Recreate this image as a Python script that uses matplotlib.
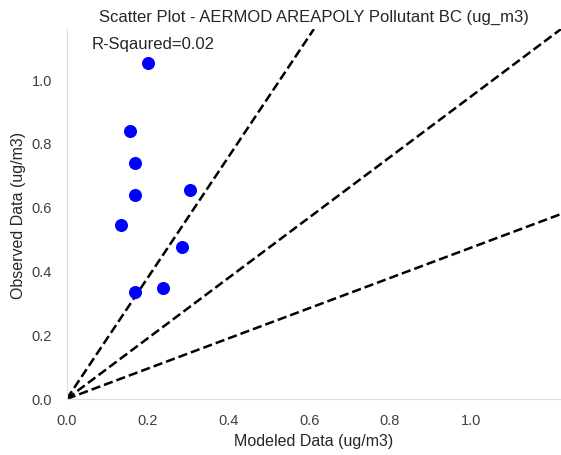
import matplotlib
matplotlib.use("Agg")
import matplotlib.pyplot as plt
import seaborn as sns

modeled = [0.201, 0.157, 0.168, 0.168, 0.306, 0.134, 0.285, 0.168, 0.237]
observed = [1.051, 0.838, 0.736, 0.636, 0.653, 0.544, 0.475, 0.334, 0.348]
r_squared = 0.02
ticks = [0.0, 0.2, 0.4, 0.6, 0.8, 1.0]

sns.set_style("white")
plt.rcParams['font.family'] = ['Liberation Sans', 'DejaVu Sans']

fig = plt.figure(figsize=(5.61, 4.56), dpi=100)
ax = fig.add_axes([0.119, 0.123, 0.881, 0.811])

ax.scatter(modeled, observed, s=70, color='blue', zorder=3)

# 1:1, 2:1 and 1:2 lines across the axes box
ax.plot([0, 1], [0, 1], transform=ax.transAxes, color='black', ls='--', lw=1.8)
ax.plot([0, 0.5], [0, 1], transform=ax.transAxes, color='black', ls='--', lw=1.8)
ax.plot([0, 1], [0, 0.5], transform=ax.transAxes, color='black', ls='--', lw=1.8)

ax.set_xlim(0, 1.223)
ax.set_ylim(0, 1.156)
ax.set_xticks(ticks)
ax.set_yticks(ticks)
ax.tick_params(labelsize=10.5, colors='.25', pad=7)

ax.text(0.05, 0.962, f"R-Sqaured={r_squared}", transform=ax.transAxes,
        fontsize=12, va='center', ha='left', color='.15')
ax.set_title("Scatter Plot - AERMOD AREAPOLY Pollutant BC (ug_m3)", fontsize=12,
             color='.15', pad=6)
ax.set_xlabel("Modeled Data (ug/m3)", fontsize=11.5, color='.15', labelpad=4)
ax.set_ylabel("Observed Data (ug/m3)", fontsize=11.5, color='.15', labelpad=4)

sns.despine(ax=ax)
for s in ['left', 'bottom']:
    ax.spines[s].set_color('#dddddd')

fig.savefig("out.png", dpi=100)
